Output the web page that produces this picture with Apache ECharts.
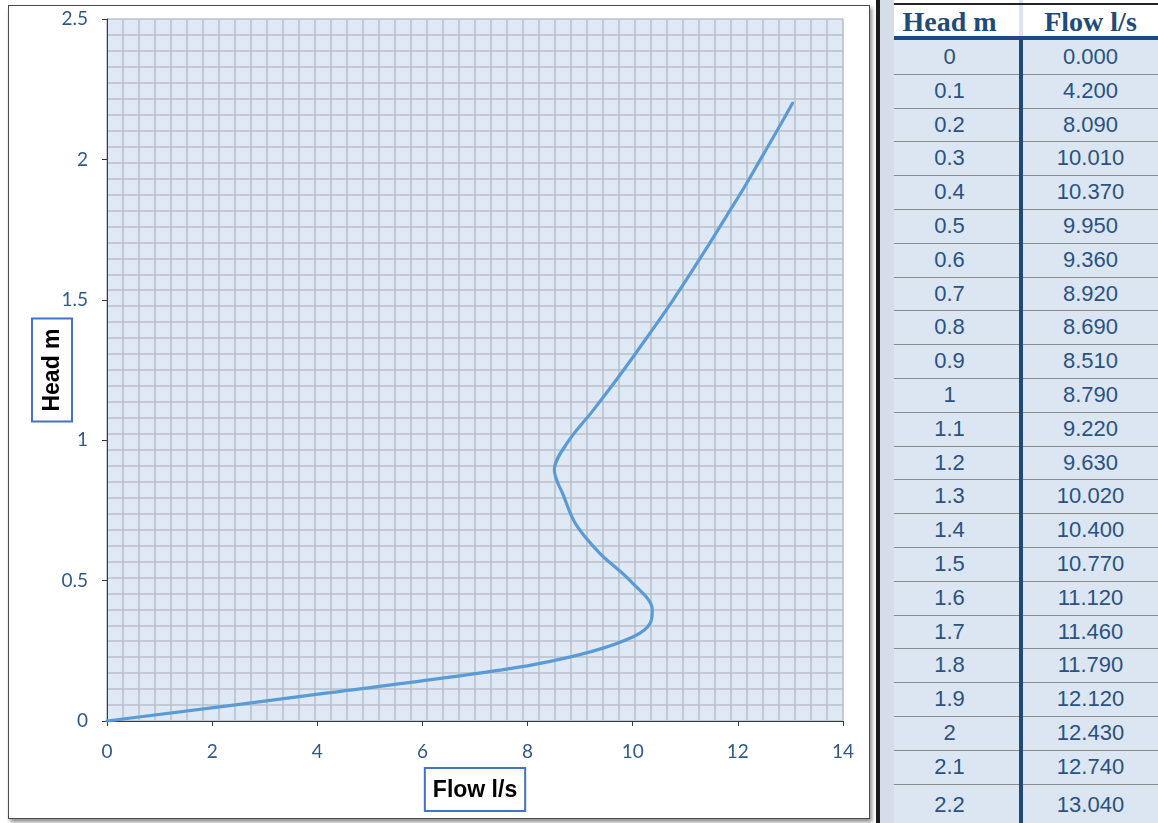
<!DOCTYPE html>
<html>
<head>
<meta charset="utf-8">
<script src="https://cdn.jsdelivr.net/npm/echarts@6/dist/echarts.min.js"></script>
<style>
  html, body { margin: 0; padding: 0; background: #ffffff; width: 1158px; height: 823px; overflow: hidden; }
  #panel { position: absolute; left: 8px; top: 5px; width: 862px; height: 814px; box-sizing: border-box;
           border: 1px solid #4a4a4a; background: #fff; box-shadow: 2px 3px 4px rgba(0,0,0,0.45); }
  #chart { position: absolute; left: 0; top: 0; width: 860px; height: 812px; }
  #table { position: absolute; left: 876px; top: 0; width: 282px; height: 823px; overflow: hidden;
           background: #dce6f2; border-left: 4px solid #1b1b1b; box-sizing: border-box; }
  .hdr { position: absolute; top: 0; height: 38px; background: #fff; font-family: "Liberation Serif", serif;
         font-weight: bold; font-size: 28px; color: #1f4b7a; line-height: 44px; text-align: center; }
  .cell { position: absolute; font-family: "Liberation Sans", Arial, sans-serif; font-size: 22px; color: #2a5282;
          text-align: center; line-height: 34px; }
  .hline { position: absolute; height: 1px; background: #8c8c8c; }
</style>
</head>
<body>
<div id="panel"><div id="chart"></div></div>
<div id="table"></div>
<script>
// ---- data ----
var headLabel = 'Head m';
var flowLabel = 'Flow l/s';
var head = [0, 0.1, 0.2, 0.3, 0.4, 0.5, 0.6, 0.7, 0.8, 0.9, 1, 1.1, 1.2, 1.3, 1.4, 1.5, 1.6, 1.7, 1.8, 1.9, 2, 2.1, 2.2];
var flow = [0.000, 4.200, 8.090, 10.010, 10.370, 9.950, 9.360, 8.920, 8.690, 8.510, 8.790, 9.220, 9.630, 10.020, 10.400, 10.770, 11.120, 11.460, 11.790, 12.120, 12.430, 12.740, 13.040];
var xTicks = [0, 2, 4, 6, 8, 10, 12, 14];
var yTicks = [0, 0.5, 1, 1.5, 2, 2.5];

// ---- chart ----
var chart = echarts.init(document.getElementById('chart'), null, { renderer: 'canvas' });
var labelColor = '#2f5a8a';
var labelFont = 'Lato, "Open Sans", sans-serif';
var points = flow.map(function (f, i) { return [f, head[i]]; });

// smoothed line (Excel-style Bezier through the data points, positioned by the chart's axes)
function renderCurve(params, api) {
  if (params.dataIndex !== 0) return null;
  var p = points.map(function (d) { return api.coord(d); });
  var n = p.length, k = 1 / 6;
  var d = 'M' + p[0][0] + ' ' + p[0][1];
  for (var i = 0; i < n - 1; i++) {
    var p0 = p[Math.max(i - 1, 0)], p1 = p[i], p2 = p[i + 1], p3 = p[Math.min(i + 2, n - 1)];
    var c1x = p1[0] + (p2[0] - p0[0]) * k, c1y = p1[1] + (p2[1] - p0[1]) * k;
    var c2x = p2[0] - (p3[0] - p1[0]) * k, c2y = p2[1] - (p3[1] - p1[1]) * k;
    d += ' C' + c1x + ' ' + c1y + ' ' + c2x + ' ' + c2y + ' ' + p2[0] + ' ' + p2[1];
  }
  return {
    type: 'path',
    shape: { pathData: d },
    style: { stroke: '#5b9bd5', lineWidth: 3.2, fill: null, lineCap: 'round', lineJoin: 'round' }
  };
}

chart.setOption({
  animation: false,
  grid: { left: 98, top: 13, width: 736, height: 702, show: true, backgroundColor: '#dfe9f6', borderWidth: 0 },
  xAxis: [{
    type: 'value', min: xTicks[0], max: xTicks[xTicks.length - 1], interval: 2,
    name: flowLabel, nameLocation: 'middle', nameGap: 47, nameMoveOverlap: false,
    nameTextStyle: { fontFamily: '"Liberation Sans", Arial, sans-serif', fontWeight: 'bold', fontSize: 23, color: '#000',
                     borderColor: '#4472c4', borderWidth: 2, padding: [11, 8, 9, 8] },
    axisLine: { show: true, lineStyle: { color: '#3a3a3a', width: 1 } },
    axisTick: { show: true, inside: false, length: 5, lineStyle: { color: '#3a3a3a' } },
    axisLabel: { color: labelColor, fontFamily: labelFont, fontSize: 19, margin: 21 },
    splitLine: { show: false }, z: 5
  }, {
    type: 'value', min: 0, max: 46, interval: 1, position: 'top',
    axisLine: { show: false }, axisTick: { show: false }, axisLabel: { show: false },
    splitLine: { show: true, lineStyle: { color: '#b9c0ca', width: 1.6 } }, z: 0
  }],
  yAxis: [{
    type: 'value', min: yTicks[0], max: yTicks[yTicks.length - 1], interval: 0.5,
    name: headLabel, nameLocation: 'middle', nameGap: 35, nameRotate: 90, nameMoveOverlap: false,
    nameTextStyle: { fontFamily: '"Liberation Sans", Arial, sans-serif', fontWeight: 'bold', fontSize: 23, color: '#000',
                     borderColor: '#4472c4', borderWidth: 2, padding: [9, 10, 8, 10] },
    axisLine: { show: true, lineStyle: { color: '#3a3a3a', width: 1 } },
    axisTick: { show: true, inside: false, length: 5, lineStyle: { color: '#3a3a3a' } },
    axisLabel: { color: labelColor, fontFamily: labelFont, fontSize: 19, margin: 19 },
    splitLine: { show: false }, z: 5
  }, {
    type: 'value', min: 0, max: 44, interval: 1, position: 'right',
    axisLine: { show: false }, axisTick: { show: false }, axisLabel: { show: false },
    splitLine: { show: true, lineStyle: { color: '#b9c0ca', width: 1.6 } }, z: 0
  }],
  series: [{
    type: 'custom', coordinateSystem: 'cartesian2d', xAxisIndex: 0, yAxisIndex: 0,
    data: points, renderItem: renderCurve, clip: false, z: 10, silent: true
  }]
});

// ---- table ----
var t = document.getElementById('table');
var colDiv = 1019 - 876 - 4; // divider position inside table content
var rowTop = 40, rowH = 33.8;
function add(cls, css, text) {
  var d = document.createElement('div');
  d.className = cls;
  for (var k in css) d.style[k] = css[k];
  if (text !== undefined) d.textContent = text;
  t.appendChild(d);
  return d;
}
add('hdr', { left: '0px', width: colDiv + 'px' }, headLabel);
add('hdr', { left: (colDiv + 4) + 'px', width: (278 - colDiv - 4) + 'px' }, flowLabel);
add('', { position: 'absolute', left: '0px', top: '0px', width: '14px', height: '823px', background: '#d4dde8' });
add('', { position: 'absolute', left: '14px', top: '3px', width: '270px', height: '2px', background: '#222' });
add('', { position: 'absolute', left: '14px', top: '36px', width: '270px', height: '4px', background: '#1f4b7a' });
for (var i = 0; i < head.length; i++) {
  var y = rowTop + i * rowH;
  var h = (i === head.length - 1) ? 40 : rowH;
  add('cell', { left: '0px', top: y + 'px', width: colDiv + 'px', height: h + 'px', lineHeight: (i === head.length - 1 ? 42 : 34) + 'px' }, String(head[i]));
  add('cell', { left: (colDiv + 4) + 'px', top: y + 'px', width: (278 - colDiv - 4) + 'px', height: h + 'px', lineHeight: (i === head.length - 1 ? 42 : 34) + 'px' }, flow[i].toFixed(3));
  if (i > 0) add('hline', { left: '14px', top: Math.round(y) + 'px', width: '270px' });
}
add('', { position: 'absolute', left: colDiv + 'px', top: '38px', width: '4px', height: '790px', background: '#1f4b7a' });
</script>
</body>
</html>
